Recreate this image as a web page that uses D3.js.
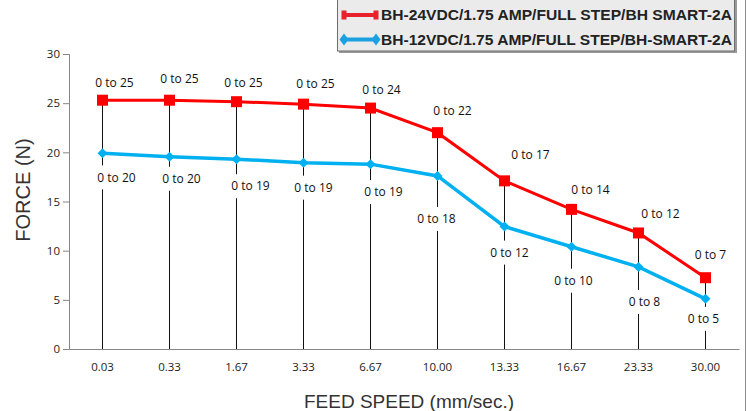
<!DOCTYPE html>
<html>
<head>
<meta charset="utf-8">
<script src="https://cdn.jsdelivr.net/npm/d3@7/dist/d3.min.js"></script>
<style>
  body { margin: 0; background: #fff; }
  svg { display: block; }
</style>
</head>
<body>
<svg id="chart"></svg>
<script>
// data
var speeds = ["0.03", "0.33", "1.67", "3.33", "6.67", "10.00", "13.33", "16.67", "23.33", "30.00"];
var force24 = [25.3, 25.3, 25.15, 24.9, 24.5, 22.0, 17.1, 14.2, 11.8, 7.25];
var force12 = [19.9, 19.55, 19.3, 18.95, 18.8, 17.6, 12.45, 10.4, 8.35, 5.1];
var labels24 = ["0 to 25", "0 to 25", "0 to 25", "0 to 25", "0 to 24", "0 to 22", "0 to 17", "0 to 14", "0 to 12", "0 to 7"];
var labels12 = ["0 to 20", "0 to 20", "0 to 19", "0 to 19", "0 to 19", "0 to 18", "0 to 12", "0 to 10", "0 to 8", "0 to 5"];
var yTicks = [0, 5, 10, 15, 20, 25, 30];
var seriesNames = ["BH-24VDC/1.75 AMP/FULL STEP/BH SMART-2A", "BH-12VDC/1.75 AMP/FULL STEP/BH-SMART-2A"];

// hand placed data label offsets (px), like the moved labels in the original
var shift24 = [[12, -17], [10, -21], [7, -19], [12, -20], [11, -18], [15, -22], [26, -26], [19, -20], [22, -19], [5, -23]];
var shift12 = [[14, 24], [12, 22], [14, 27], [10, 25], [13, 28], [-1, 43], [5, 26], [2, 34], [6, 35], [-2, 20]];

var width = 746, height = 411;
var margin = { top: 54, right: 7, bottom: 62, left: 69 };

var svg = d3.select("#chart").attr("width", width).attr("height", height);

var xScale = d3.scaleBand()
    .domain(speeds)
    .range([margin.left, width - margin.right]);

var yScale = d3.scaleLinear()
    .domain([0, 30])
    .range([height - margin.bottom, margin.top]);

var cx = function (d, i) { return xScale(speeds[i]) + xScale.bandwidth() / 2; };

// outer right border of the chart area
svg.append("line")
    .attr("x1", 745.5).attr("x2", 745.5)
    .attr("y1", 0).attr("y2", height)
    .attr("stroke", "#8c8c8c");

// y axis
var axisLeft = d3.axisLeft(yScale).tickValues(yTicks).tickSize(6).tickPadding(3);
var gy = svg.append("g")
    .attr("transform", "translate(" + margin.left + ",0)")
    .call(axisLeft);
gy.select(".domain").attr("stroke", "#868686");
gy.selectAll(".tick line").attr("stroke", "#868686");
gy.selectAll(".tick text")
    .attr("font-family", "Open Sans")
    .attr("font-size", "11.5px")
    .attr("fill", "#222");

// x axis
var axisBottom = d3.axisBottom(xScale).tickSize(0).tickPadding(14);
var gx = svg.append("g")
    .attr("transform", "translate(0," + yScale(0) + ")")
    .call(axisBottom);
gx.select(".domain").attr("stroke", "#868686");
gx.selectAll(".tick text")
    .attr("font-family", "Open Sans")
    .attr("font-size", "11.5px")
    .attr("fill", "#222");

// drop lines from axis up to top series
svg.append("g").selectAll("line")
    .data(force24)
    .enter()
    .append("line")
    .attr("x1", cx).attr("x2", cx)
    .attr("y1", yScale(0))
    .attr("y2", function (d) { return yScale(d); })
    .attr("stroke", "#111")
    .attr("stroke-width", 1);

// series lines
var line = d3.line()
    .x(function (d, i) { return cx(d, i); })
    .y(function (d) { return yScale(d); });

svg.append("path")
    .datum(force12)
    .attr("d", line)
    .attr("fill", "none")
    .attr("stroke", "#00b0f0")
    .attr("stroke-width", 3.5);

svg.append("path")
    .datum(force24)
    .attr("d", line)
    .attr("fill", "none")
    .attr("stroke", "#ff0000")
    .attr("stroke-width", 3);

// markers
svg.append("g").selectAll("path")
    .data(force12)
    .enter()
    .append("path")
    .attr("d", "M0,-5L5,0L0,5L-5,0Z")
    .attr("transform", function (d, i) { return "translate(" + cx(d, i) + "," + yScale(d) + ")"; })
    .attr("fill", "#00b0f0");

svg.append("g").selectAll("rect")
    .data(force24)
    .enter()
    .append("rect")
    .attr("x", function (d, i) { return cx(d, i) - 5.5; })
    .attr("y", function (d) { return yScale(d) - 5.5; })
    .attr("width", 11)
    .attr("height", 11)
    .attr("fill", "#ff0000");

// data labels
function drawLabels(values, texts, shifts, withBox) {
    var g = svg.append("g")
        .selectAll("g")
        .data(values)
        .enter()
        .append("g")
        .attr("transform", function (d, i) {
            return "translate(" + (cx(d, i) + shifts[i][0]) + "," + (yScale(d) + shifts[i][1]) + ")";
        });
    if (withBox) {
        g.append("rect")
            .attr("x", -24).attr("y", -12)
            .attr("width", 48).attr("height", 24)
            .attr("fill", "#fff");
    }
    g.append("text")
        .text(function (d, i) { return texts[i]; })
        .attr("text-anchor", "middle")
        .attr("dy", "0.35em")
        .attr("font-family", "Open Sans")
        .attr("font-size", "12px")
        .attr("fill", "#111");
}
drawLabels(force24, labels24, shift24, false);
drawLabels(force12, labels12, shift12, true);

// axis titles
svg.append("text")
    .text("FORCE (N)")
    .attr("transform", "translate(30,190) rotate(-90)")
    .attr("text-anchor", "middle")
    .attr("font-family", "Liberation Sans")
    .attr("font-size", "20px")
    .attr("fill", "#333");

svg.append("text")
    .text("FEED SPEED (mm/sec.)")
    .attr("x", 409)
    .attr("y", 408)
    .attr("text-anchor", "middle")
    .attr("font-family", "Liberation Sans")
    .attr("font-size", "19px")
    .attr("fill", "#333");

// legend box
var legend = svg.append("g");
legend.append("rect")
    .attr("x", 339).attr("y", -4)
    .attr("width", 398).attr("height", 57)
    .attr("fill", "#9a9a9a");
legend.append("rect")
    .attr("x", 337.5).attr("y", -4)
    .attr("width", 397).attr("height", 55)
    .attr("fill", "#ebebeb")
    .attr("stroke", "#6e6e6e");

var legendColors = ["#e8222a", "#1ba1e2"];
var legendRows = legend.selectAll(".row")
    .data(seriesNames)
    .enter()
    .append("g")
    .attr("class", "row")
    .attr("transform", function (d, i) { return "translate(0," + (15 + i * 24.5) + ")"; });

legendRows.append("line")
    .attr("x1", 344).attr("x2", 377)
    .attr("y1", 0).attr("y2", 0)
    .attr("stroke", function (d, i) { return legendColors[i]; })
    .attr("stroke-width", 4);

legendRows.each(function (d, i) {
    var row = d3.select(this);
    [344, 376].forEach(function (x) {
        if (i === 0) {
            row.append("rect")
                .attr("x", x - 2.5).attr("y", -4.5)
                .attr("width", 5).attr("height", 9)
                .attr("fill", legendColors[i]);
        } else {
            row.append("path")
                .attr("d", "M0,-6L4.5,0L0,6L-4.5,0Z")
                .attr("transform", "translate(" + x + ",0)")
                .attr("fill", legendColors[i]);
        }
    });
});

legendRows.append("text")
    .text(function (d) { return d; })
    .attr("x", 381)
    .attr("y", 5)
    .attr("textLength", 351)
    .attr("lengthAdjust", "spacingAndGlyphs")
    .attr("font-family", "Liberation Sans")
    .attr("font-weight", "bold")
    .attr("font-size", "14.5px")
    .attr("fill", "#222");
</script>
</body>
</html>
